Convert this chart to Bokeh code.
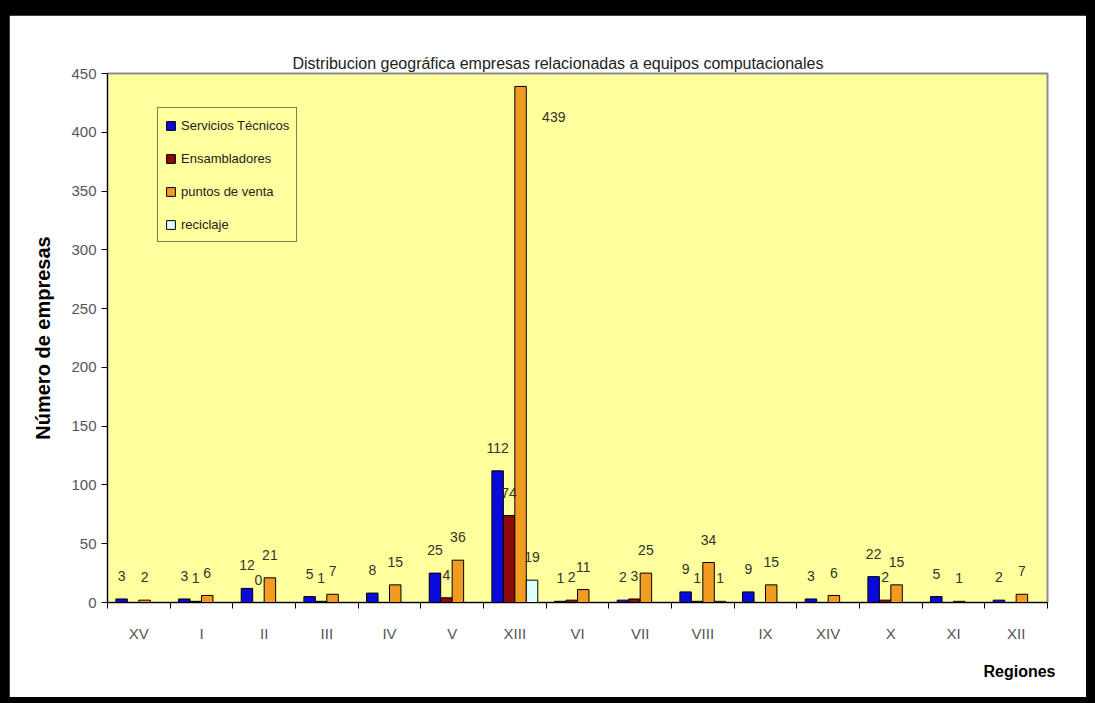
import re
from bokeh.plotting import figure
from bokeh.models import ColumnDataSource, FixedTicker, Title, Range1d
from bokeh.core.properties import value
from bokeh.embed import file_html
from bokeh.resources import INLINE

# ---- data ----
regions = ["XV", "I", "II", "III", "IV", "V", "XIII", "VI", "VII", "VIII", "IX", "XIV", "X", "XI", "XII"]
servicios_tecnicos = [3, 3, 12, 5, 8, 25, 112, 1, 2, 9, 9, 3, 22, 5, 2]
ensambladores = [None, 1, 0, 1, None, 4, 74, 2, 3, 1, None, None, 2, None, None]
puntos_de_venta = [2, 6, 21, 7, 15, 36, 439, 11, 25, 34, 15, 6, 15, 1, 7]
reciclaje = [None, None, None, None, None, None, 19, None, None, 1, None, None, None, None, None]

series_names = ["Servicios Técnicos", "Ensambladores", "puntos de venta", "reciclaje"]
series_values = [servicios_tecnicos, ensambladores, puntos_de_venta, reciclaje]
series_colors = ["#0A0ADC", "#8B0A0A", "#F29B22", "#DDFFFF"]

y_ticks = [0, 50, 100, 150, 200, 250, 300, 350, 400, 450]

title_text = "Distribucion geográfica  empresas relacionadas a equipos computacionales"
x_title = "Regiones"
y_title = "Número de empresas"

FONT = "Liberation Sans"
BG = "#FFFF9E"

p = figure(width=1077, height=682, output_backend="svg", toolbar_location=None,
           x_range=Range1d(0, len(regions)), y_range=Range1d(0, 450),
           min_border_left=98, min_border_right=39, min_border_top=58, min_border_bottom=95,
           background_fill_color=BG, border_fill_color="white",
           outline_line_color="#8C8C8C", outline_line_width=2)

p.grid.visible = False

bar_w = 0.183
offsets = [-1.5 * bar_w, -0.5 * bar_w, 0.5 * bar_w, 1.5 * bar_w]

lab_x, lab_y, lab_t = [], [], []
for name, vals, col, off in zip(series_names, series_values, series_colors, offsets):
    xs = [i + 0.5 + off for i in range(len(regions))]
    tops = [float("nan") if v is None else v for v in vals]
    src = ColumnDataSource(dict(x=xs, top=tops))
    p.vbar(x="x", top="top", width=bar_w, bottom=0, source=src,
           fill_color=col, line_color="black", line_width=1, legend_label=name)
    for x, v in zip(xs, vals):
        if v is None:
            continue
        if v + 20 > 440:
            lab_x.append(x + 0.53)
            lab_y.append(v - 26)
        else:
            lab_x.append(x)
            lab_y.append(v + 19.5)
        lab_t.append(str(v))

p.text(x=lab_x, y=lab_y, text=lab_t, text_font=value(FONT), text_font_size="14px",
       text_color="#33332A", text_align="center", text_baseline="middle")

# y axis
ya = p.yaxis[0]
ya.ticker = FixedTicker(ticks=y_ticks, minor_ticks=[])
ya.major_tick_out = 6
ya.major_tick_in = 0
ya.major_tick_line_color = "black"
ya.axis_line_color = "black"
ya.major_label_standoff = 5
ya.major_label_text_font = FONT
ya.major_label_text_font_size = "15px"
ya.major_label_text_color = "#555555"
ya.axis_label = y_title
ya.axis_label_text_font = FONT
ya.axis_label_text_font_style = "bold"
ya.axis_label_text_font_size = "20px"
ya.axis_label_text_color = "black"
ya.axis_label_standoff = 14

# x axis: labels at category centres, tick marks at category boundaries
xa = p.xaxis[0]
centres = [i + 0.5 for i in range(len(regions))]
xa.ticker = FixedTicker(ticks=centres, minor_ticks=list(range(len(regions) + 1)))
xa.major_label_overrides = {c: r for c, r in zip(centres, regions)}
xa.major_tick_out = 0
xa.major_tick_in = 0
xa.minor_tick_out = 6
xa.minor_tick_in = 0
xa.minor_tick_line_color = "black"
xa.axis_line_color = "black"
xa.major_label_standoff = 16
xa.major_label_text_font = FONT
xa.major_label_text_font_size = "15px"
xa.major_label_text_color = "#555555"

# titles
p.add_layout(Title(text=title_text, align="left", offset=185, standoff=3,
                   text_font=FONT, text_font_size="16px", text_font_style="normal",
                   text_color="#222222"), "above")
p.add_layout(Title(text=x_title, align="right", offset=-8, standoff=32,
                   text_font=FONT, text_font_size="16px", text_font_style="bold",
                   text_color="black"), "below")

# legend
lg = p.legend[0]
lg.location = (50, 360)
lg.border_line_color = "black"
lg.border_line_width = 1
lg.background_fill_color = BG
lg.background_fill_alpha = 1
lg.label_text_font = FONT
lg.label_text_font_size = "13px"
lg.label_text_color = "#222222"
lg.glyph_height = 11
lg.glyph_width = 11
lg.label_height = 20
lg.label_standoff = 5
lg.spacing = 13
lg.padding = 7
lg.margin = 0

html = file_html(p, INLINE)
frame_css = ("<style>html, body { background: #000000 !important; } "
             "body { margin: 0 !important; padding: 15px 0 0 9px !important; }</style>")
html = re.sub(r"</head>", frame_css + "\n</head>", html, count=1, flags=re.I)
open("out.html", "w").write(html)
